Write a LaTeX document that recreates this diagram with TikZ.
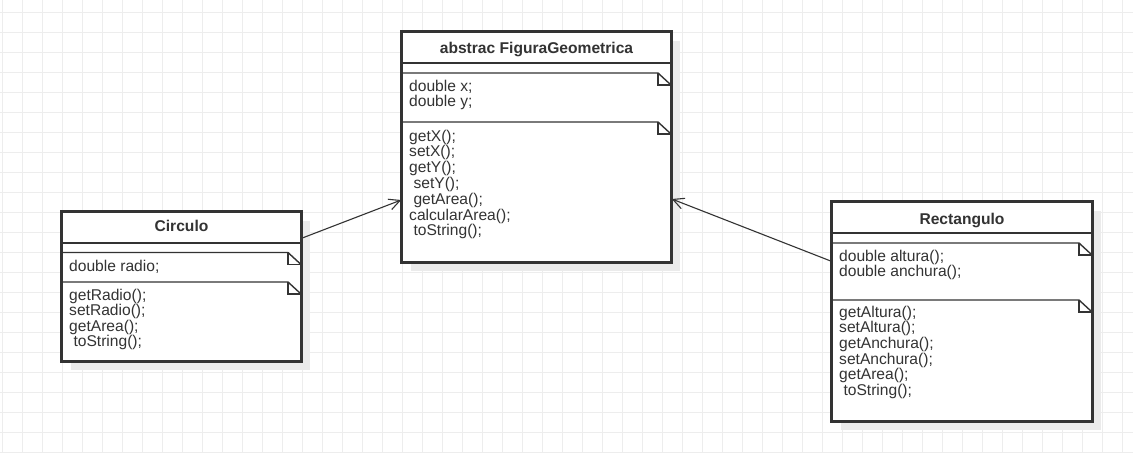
\documentclass[tikz,border=0pt]{standalone}
\usepackage{fontspec}
\setmainfont{Liberation Sans}
\usetikzlibrary{arrows.meta,calc}
\definecolor{ink}{HTML}{333333}
\definecolor{gridc}{HTML}{EDEDED}
\definecolor{shad}{HTML}{EBEBEB}
\begin{document}
\begin{tikzpicture}[x=1pt,y=-1pt,
  cls/.style={draw=ink, line width=1.6pt, fill=white, inner sep=0pt, rectangle},
  txt/.style={anchor=base west, inner sep=0pt, text=ink, font=\fontsize{15.6}{15.6}\selectfont},
  ttl/.style={anchor=base, inner sep=0pt, text=ink, font=\fontsize{15.6}{15.6}\selectfont\bfseries},
  sepline/.style={draw=ink, line width=1.4pt},
  rel/.style={draw=ink, line width=1.1pt, -{Straight Barb[length=11pt,width=11pt]}},
  shadowbox/.style={fill=shad, draw=none},
]
\useasboundingbox (0,0) rectangle (1133,453);
\fill[white] (0,0) rectangle (1133,453);
% grid
\foreach \gx in {2,22,...,1132} {\draw[gridc, line width=1pt] (\gx,0) -- (\gx,453);}
\foreach \gy in {12,32,...,452} {\draw[gridc, line width=1pt] (0,\gy) -- (1133,\gy);}

% shadows
\fill[shadowbox] (411,41) rectangle (680,271);
\fill[shadowbox] (71,221) rectangle (310,370);
\fill[shadowbox] (841,211) rectangle (1101,430);

% class boxes
\node[cls, minimum width=269pt, minimum height=230pt] (fig) at (536.5,147) {};
\node[cls, minimum width=239pt, minimum height=149pt] (circ) at (181.5,286.5) {};
\node[cls, minimum width=260pt, minimum height=219pt] (rect) at (962,311.5) {};

% --- FiguraGeometrica compartments
\draw[sepline] (402,63) -- (671,63);
\draw[sepline] (402,73) -- (658,73) -- (671,85);
\draw[sepline] (658,73) -- (658,85) -- (671,85);
\draw[sepline] (402,122) -- (658,122) -- (671,134);
\draw[sepline] (658,122) -- (658,134) -- (671,134);
\node[ttl] (figt) at (536.5,53) {abstrac FiguraGeometrica};
\node[txt] (fa1) at (409,91) {double x;};
\node[txt] (fa2) at (409,106.6) {double y;};
\node[txt] (fm1) at (409,141) {getX();};
\node[txt] (fm2) at (409,156.8) {setX();};
\node[txt] (fm3) at (409,172.6) {getY();};
\node[txt] (fm4) at (409,188.4) {\ setY();};
\node[txt] (fm5) at (409,204.2) {\ getArea();};
\node[txt] (fm6) at (409,220) {calcularArea();};
\node[txt] (fm7) at (409,235.8) {\ toString();};

% --- Circulo compartments
\draw[sepline] (62,243) -- (301,243);
\draw[sepline] (62,252.5) -- (288,252.5) -- (301,264.5);
\draw[sepline] (288,252.5) -- (288,264.5) -- (301,264.5);
\draw[sepline] (62,282) -- (288,282) -- (301,294);
\draw[sepline] (288,282) -- (288,294) -- (301,294);
\node[ttl] (circt) at (181.5,231.7) {Circulo};
\node[txt] (ca1) at (69,271.5) {double radio;};
\node[txt] (cm1) at (69,300) {getRadio();};
\node[txt] (cm2) at (69,315.6) {setRadio();};
\node[txt] (cm3) at (69,331.2) {getArea();};
\node[txt] (cm4) at (69,346.8) {\ toString();};

% --- Rectangulo compartments
\draw[sepline] (832,233) -- (1092,233);
\draw[sepline] (832,243) -- (1079,243) -- (1092,255);
\draw[sepline] (1079,243) -- (1079,255) -- (1092,255);
\draw[sepline] (832,300) -- (1079,300) -- (1092,312);
\draw[sepline] (1079,300) -- (1079,312) -- (1092,312);
\node[ttl] (rectt) at (962,224) {Rectangulo};
\node[txt] (ra1) at (839,261) {double altura();};
\node[txt] (ra2) at (839,276.6) {double anchura();};
\node[txt] (rm1) at (839,317.3) {getAltura();};
\node[txt] (rm2) at (839,332.9) {setAltura();};
\node[txt] (rm3) at (839,348.5) {getAnchura();};
\node[txt] (rm4) at (839,364.1) {setAnchura();};
\node[txt] (rm5) at (839,379.7) {getArea();};
\node[txt] (rm6) at (839,395.3) {\ toString();};

% redraw outer borders on top
\draw[draw=ink, line width=1.6pt] (fig.north west) rectangle (fig.south east);
\draw[draw=ink, line width=1.6pt] (circ.north west) rectangle (circ.south east);
\draw[draw=ink, line width=1.6pt] (rect.north west) rectangle (rect.south east);

% relations
\draw[rel] ($(circ.north east)+(0,27)$) -- ($(fig.west)+(0,53)$);
\draw[rel] ($(rect.north west)+(0,60)$) -- ($(fig.east)+(0,52)$);
\end{tikzpicture}
\end{document}
